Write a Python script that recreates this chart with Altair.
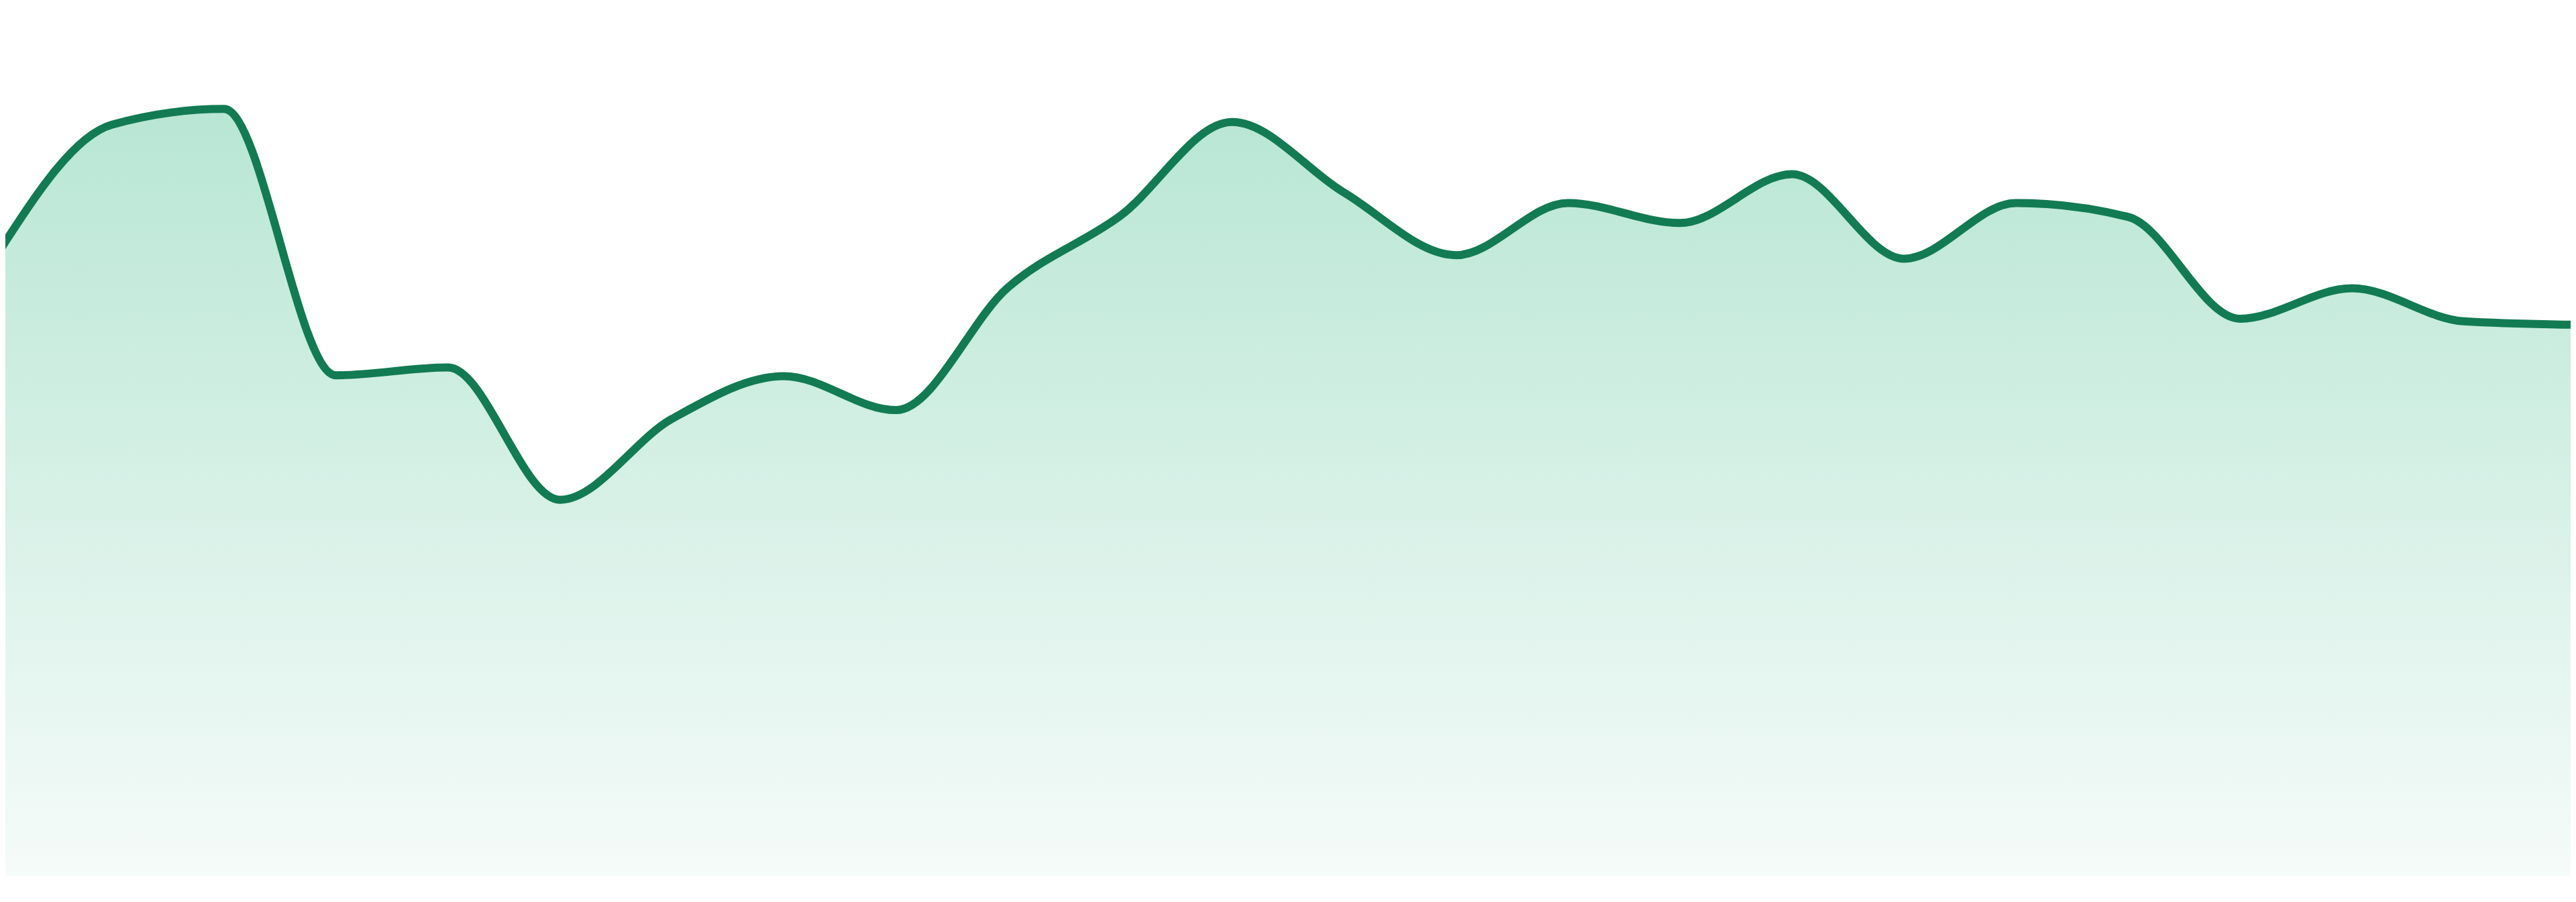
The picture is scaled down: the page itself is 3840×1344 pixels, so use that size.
import altair as alt
import pandas as pd

# data (24 evenly spaced points)
index = list(range(24))
values = [71.9, 86.3, 88.1, 57.5, 58.4, 43.2, 52.5, 57.4, 53.5, 67.6, 75.8, 86.6,
          78.5, 71.3, 77.3, 75.0, 80.6, 70.9, 77.3, 75.7, 64.0, 67.5, 63.7, 63.3]

df = pd.DataFrame({"i": index, "v": values})

x = alt.X("i:Q", axis=None,
          scale=alt.Scale(domain=[0.0479, 22.952], nice=False, zero=False))
y = alt.Y("v:Q", axis=None, scale=alt.Scale(domain=[0, 100], nice=False))

area = alt.Chart(df).mark_area(
    interpolate="monotone",
    clip=True,
    color=alt.Gradient(
        gradient="linear",
        stops=[
            alt.GradientStop(color="#b8e6d4", offset=0),
            alt.GradientStop(color="#f5fbf9", offset=1),
        ],
        x1=0, x2=0, y1=0, y2=1,
    ),
).encode(x=x, y=y)

line = alt.Chart(df).mark_line(
    interpolate="monotone",
    clip=True,
    color="#127b53",
    strokeWidth=12,
    strokeCap="round",
    strokeJoin="round",
).encode(x=x, y=y)

chart = (area + line).properties(
    width=3824,
    height=1297,
    padding=0,
    autosize="none",
    background="white",
).configure_view(stroke=None)

chart.save("out.html", embed_options={"renderer": "svg", "actions": False})
